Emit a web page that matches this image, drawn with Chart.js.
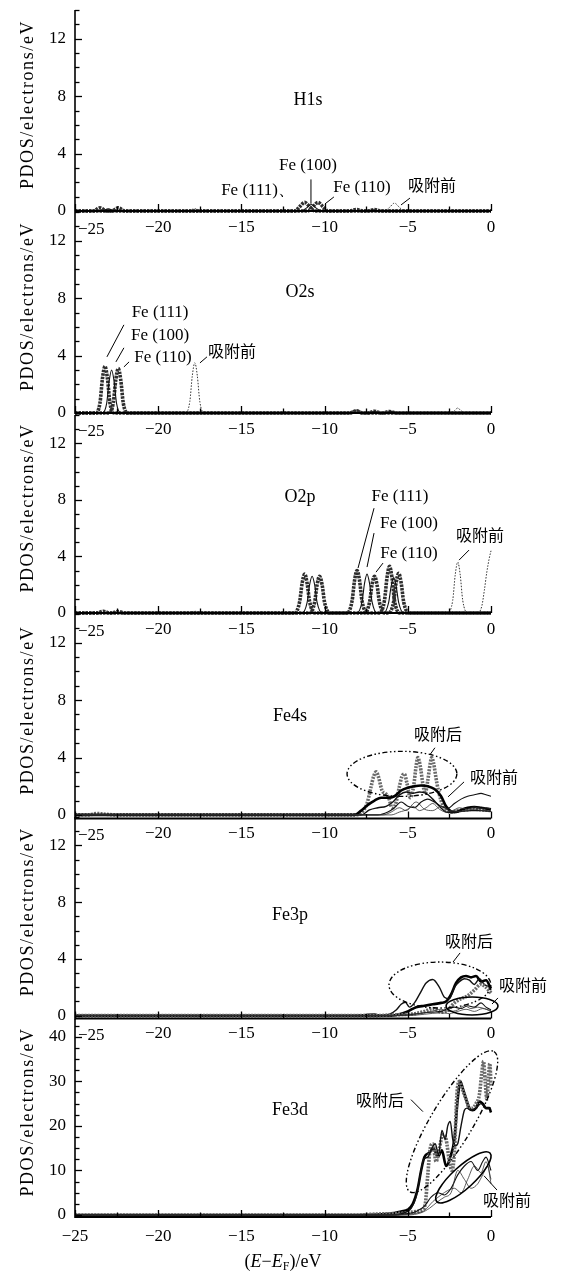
<!DOCTYPE html>
<html><head><meta charset="utf-8">
<script src="https://cdn.jsdelivr.net/npm/chart.js@4.4.0/dist/chart.umd.min.js"></script>
<style>
html,body{margin:0;padding:0;background:#fff;}
#wrap{position:relative;width:565px;height:1276px;overflow:hidden;background:#fff;}
#wrap canvas{position:absolute;left:0;top:0;}
</style></head><body><div id="wrap"></div>
<script>
// ---------- tick labels ----------
const xTickLabels = [-25, -20, -15, -10, -5, 0];
const yTickLabels = [0, 4, 8, 12];
const yTickLabelsFe3d = [0, 10, 20, 30, 40];

// ---------- H1s ----------
const h1s111X = [-25,-23.9,-23.5,-23.1,-22.0,-11.8,-11.5,-11.2,-10.9,-10.6,-8.5,-8.1,-7.7,0];
const h1s111Y = [0,0,0.22,0,0,0,0.3,0.6,0.3,0,0,0.1,0,0];
const h1s100X = [-25,-23.4,-23.0,-22.6,-11.4,-11.1,-10.8,-10.5,-10.2,-7.5,-7.1,-6.7,0];
const h1s100Y = [0,0,0.15,0,0,0.2,0.45,0.2,0,0,0.08,0,0];
const h1s110X = [-25,-22.8,-22.4,-22.0,-11.0,-10.7,-10.4,-10.1,-9.8,-7.4,-7.0,-6.6,0];
const h1s110Y = [0,0,0.22,0,0,0.3,0.6,0.3,0,0,0.1,0,0];
const h1sBeforeX = [-25,-18.3,-17.8,-17.3,-6.4,-6.1,-5.8,-5.5,-5.2,0];
const h1sBeforeY = [0,0,0.15,0,0,0.25,0.55,0.25,0,0];

// ---------- O2s ----------
const o2s111X = [-25,-23.75,-23.5,-23.35,-23.2,-23.05,-22.9,-22.65,-8.5,-8.1,-7.7,-7.4,-7.0,-6.6,0];
const o2s111Y = [0,0,0.7,2.4,3.25,2.4,0.7,0,0,0.15,0,0,0.12,0,0];
const o2s100X = [-25,-23.35,-23.1,-22.95,-22.8,-22.65,-22.5,-22.25,-7.4,-7.0,-6.6,-6.4,-6.0,-5.6,0];
const o2s100Y = [0,0,0.65,2.2,3.0,2.2,0.65,0,0,0.1,0,0,0.1,0,0];
const o2s110X = [-25,-22.95,-22.7,-22.55,-22.4,-22.25,-22.1,-21.85,-8.5,-8.1,-7.7,-6.5,-6.1,-5.7,0];
const o2s110Y = [0,0,0.7,2.3,3.1,2.3,0.7,0,0,0.12,0,0,0.1,0,0];
const o2sBeforeX = [-25,-18.35,-18.1,-17.95,-17.8,-17.65,-17.5,-17.25,-2.5,-2.2,-2.0,-1.8,-1.5,0];
const o2sBeforeY = [0,0,0.8,2.6,3.5,2.6,0.8,0,0,0.15,0.35,0.15,0,0];

// ---------- O2p ----------
const o2p111X = [-25,-23.7,-23.3,-22.9,-22.8,-22.4,-22.0,-11.8,-11.5,-11.35,-11.2,-11.05,-10.9,-10.6,-8.65,-8.35,-8.2,-8.05,-7.9,-7.75,-7.45,-6.7,-6.4,-6.25,-6.1,-5.95,-5.8,-5.5,-4.5,0];
const o2p111Y = [0,0,0.12,0,0,0.1,0,0,0.8,2.1,2.75,2.1,0.8,0,0,0.85,2.3,3.0,2.3,0.85,0,0,0.9,2.5,3.3,2.5,0.9,0,0,0];
const o2p100X = [-25,-11.35,-11.05,-10.9,-10.75,-10.6,-10.45,-10.15,-8.05,-7.75,-7.6,-7.45,-7.3,-7.15,-6.85,-6.45,-6.15,-6.0,-5.85,-5.7,-5.55,-5.25,0];
const o2p100Y = [0,0,0.75,2.0,2.6,2.0,0.75,0,0,0.8,2.1,2.75,2.1,0.8,0,0,0.75,1.9,2.5,1.9,0.75,0,0];
const o2p110X = [-25,-10.9,-10.6,-10.45,-10.3,-10.15,-10.0,-9.7,-7.6,-7.3,-7.15,-7.0,-6.85,-6.7,-6.4,-6.15,-5.85,-5.7,-5.55,-5.4,-5.25,-4.95,0];
const o2p110Y = [0,0,0.75,2.0,2.6,2.0,0.75,0,0,0.75,2.0,2.6,2.0,0.75,0,0,0.8,2.15,2.8,2.15,0.8,0,0];
const o2pBeforeX = [-25,-18.3,-17.8,-17.3,-2.6,-2.3,-2.15,-2.0,-1.85,-1.7,-1.4,-0.8,-0.55,-0.4,-0.25,-0.1,0];
const o2pBeforeY = [0,0,0.12,0,0,0.9,2.7,3.6,2.7,0.9,0,0,0.5,1.6,2.9,3.9,4.4];

// ---------- Fe4s ----------
const fe4sAfterAX = [-25,-24.2,-23.7,-23.2,-22.6,-9.5,-8.2,-7.8,-7.45,-7.2,-7.05,-6.9,-6.75,-6.55,-6.35,-6.15,-5.95,-5.75,-5.5,-5.35,-5.2,-5.05,-4.85,-4.65,-4.5,-4.4,-4.25,-4.1,-3.95,-3.8,-3.65,-3.56,-3.45,-3.25,-3.0,-2.7,-2.4,-2.0,-1.5,-1.0,-0.5,0];
const fe4sAfterAY = [0,0,0.1,0.05,0,0,0,0.15,0.8,2.0,2.7,3.0,2.6,1.7,1.5,1.2,0.5,0.7,2.0,2.7,2.85,2.2,1.2,2.0,3.4,4.0,3.4,2.2,1.5,2.4,3.6,4.0,3.6,2.2,1.0,0.4,0.2,0.3,0.35,0.4,0.35,0.3];
const fe4sAfterBX = [-25,-8.2,-7.8,-7.4,-7.0,-6.6,-6.2,-5.8,-5.4,-5.0,-4.6,-4.2,-3.8,-3.4,-3.0,-2.7,-2.4,-2.1,-1.8,-1.4,-1.0,-0.6,-0.3,0];
const fe4sAfterBY = [0,0,0.3,0.7,1.0,1.2,1.2,1.3,1.7,1.9,2.0,2.05,2.0,1.8,1.3,0.6,0.25,0.2,0.35,0.5,0.55,0.5,0.45,0.4];
const fe4sAfterCX = [-25,-7.8,-7.3,-6.8,-6.3,-5.9,-5.5,-5.1,-4.7,-4.3,-3.9,-3.5,-3.1,-2.7,-2.3,-1.8,-1.2,-0.6,0];
const fe4sAfterCY = [0,0,0.35,0.5,0.6,0.9,1.4,1.6,1.5,1.6,1.5,1.1,0.6,0.2,0.15,0.25,0.3,0.3,0.25];
const fe4sBefore1X = [-25,-6.8,-6.2,-5.8,-5.4,-5.0,-4.6,-4.2,-3.8,-3.4,-3.0,-2.6,-2.2,-1.8,-1.4,-1.0,-0.6,-0.3,0];
const fe4sBefore1Y = [0,0,0.2,0.5,0.9,0.6,0.5,0.9,1.1,0.9,0.6,0.45,0.8,1.1,1.3,1.4,1.5,1.4,1.3];
const fe4sBefore2X = [-25,-6.5,-6.0,-5.5,-5.1,-4.7,-4.3,-3.9,-3.5,-3.1,-2.7,-2.3,-1.9,-1.4,-1.0,-0.6,-0.3,0];
const fe4sBefore2Y = [0,0,0.2,0.5,0.3,0.6,0.3,0.5,0.8,0.4,0.2,0.3,0.5,0.4,0.55,0.45,0.5,0.4];
const fe4sBefore3X = [-25,-6.0,-5.5,-5.0,-4.5,-4.0,-3.5,-3.0,-2.5,-2.0,-1.5,-1.0,-0.5,0];
const fe4sBefore3Y = [0,0,0.2,0.4,0.9,0.4,0.3,0.6,0.3,0.25,0.3,0.4,0.3,0.25];

// ---------- Fe3p ----------
const fe3pAfterAX = [-25,-8.2,-7.8,-7.4,-7.0,-6.6,-6.1,-5.7,-5.4,-5.15,-4.9,-4.6,-4.3,-3.9,-3.5,-3.1,-2.8,-2.5,-2.2,-1.9,-1.6,-1.3,-1.0,-0.7,-0.4,-0.1,0];
const fe3pAfterAY = [0,0,0.05,0.1,0.12,0,0.1,0.4,0.8,0.95,0.6,0.9,1.5,2.3,2.55,2.0,1.3,1.2,2.0,2.4,2.6,2.5,2.2,2.6,2.2,2.0,1.8];
const fe3pAfterBX = [-25,-6.0,-5.5,-5.0,-4.5,-4.0,-3.5,-3.0,-2.7,-2.4,-2.1,-1.8,-1.5,-1.2,-0.9,-0.6,-0.3,0];
const fe3pAfterBY = [0,0,0.1,0.3,0.6,0.7,0.8,0.9,1.0,1.5,2.3,2.7,2.8,2.7,2.8,2.4,2.5,1.9];
const fe3pAfterCX = [-25,-7.0,-6.0,-5.0,-4.5,-4.0,-3.5,-3.0,-2.6,-2.2,-1.8,-1.4,-1.0,-0.6,-0.3,0];
const fe3pAfterCY = [0,0,0.05,0.1,0.15,0.3,0.5,0.25,0.4,0.9,1.2,1.4,1.8,2.2,2.0,1.6];
const fe3pBefore1X = [-25,-6.0,-5.0,-4.0,-3.5,-3.0,-2.6,-2.2,-1.8,-1.4,-1.0,-0.6,-0.3,0];
const fe3pBefore1Y = [0,0,0.05,0.2,0.25,0.3,0.5,0.6,0.5,0.7,0.6,0.9,0.6,0.4];
const fe3pBefore2X = [-25,-6.0,-5.0,-4.2,-3.6,-3.0,-2.5,-2.0,-1.6,-1.2,-0.8,-0.4,0];
const fe3pBefore2Y = [0,0,0.1,0.15,0.3,0.45,0.3,0.4,0.7,0.5,0.6,0.5,0.35];
const fe3pBefore3X = [-25,-5.0,-4.0,-3.0,-2.5,-2.0,-1.5,-1.0,-0.5,0];
const fe3pBefore3Y = [0,0,0.1,0.2,0.15,0.3,0.45,0.3,0.5,0.3];

// ---------- Fe3d ----------
const fe3dAfterAX = [-25,-8.0,-7.0,-6.0,-5.0,-4.5,-4.2,-3.95,-3.8,-3.65,-3.5,-3.3,-3.1,-2.9,-2.7,-2.5,-2.35,-2.2,-2.05,-1.9,-1.7,-1.5,-1.3,-1.1,-0.9,-0.7,-0.55,-0.45,-0.35,-0.25,-0.15,-0.07,0];
const fe3dAfterAY = [0,0,0.2,0.3,0.5,0.8,1.0,2.5,9,15,16,12,15,18,17,12,10,14,27,30,28,26,24,24,25,27,32,34.5,30,26,31,34,29];
const fe3dAfterBX = [-25,-8.0,-6.0,-5.4,-5.0,-4.7,-4.4,-4.2,-4.0,-3.7,-3.45,-3.2,-2.95,-2.7,-2.45,-2.2,-2.0,-1.85,-1.7,-1.5,-1.3,-1.1,-0.9,-0.7,-0.5,-0.3,-0.1,0];
const fe3dAfterBY = [0,0,0.3,0.8,1.2,2.5,6,10,13,14,15,13,14.5,11,13,17,26,30,28.5,26,24,23.5,24,25.5,25,24,24,23];
const fe3dAfterCX = [-25,-6.0,-5.2,-4.8,-4.5,-4.25,-4.05,-3.8,-3.55,-3.35,-3.15,-2.95,-2.75,-2.6,-2.45,-2.3,-2.15,-2.0,-1.8,-1.6,-1.45,-1.2,-0.9,-0.6,-0.3,0];
const fe3dAfterCY = [0,0,0.5,1.5,4,9,12.5,13,15,16,13.5,19,17,20,21,17,15.5,16,20,23.5,24,23.5,24,25,24,24];
const fe3dBefore1X = [-25,-6.0,-5.0,-4.5,-4.0,-3.6,-3.2,-2.8,-2.4,-2.0,-1.6,-1.2,-0.8,-0.5,-0.3,0];
const fe3dBefore1Y = [0,0,0.3,0.8,2,4,5,4.5,6,9,11,12,10,12,13,10];
const fe3dBefore2X = [-25,-5.5,-4.5,-4.0,-3.5,-3.0,-2.6,-2.2,-1.8,-1.4,-1.0,-0.6,-0.3,0];
const fe3dBefore2Y = [0,0,0.4,1,3,4.5,5.5,6,5,8,11,9.5,12,8];
const fe3dBefore3X = [-25,-5.0,-4.2,-3.7,-3.2,-2.8,-2.4,-2.0,-1.6,-1.2,-0.8,-0.5,-0.2,0];
const fe3dBefore3Y = [0,0,0.5,1.5,3,4,5,10,8,6,7,9,11,7];

// ---------- styles ----------
const STYLE = {
  hatched:  {borderColor:'#2e2e2e', borderWidth:3.6, borderDash:[2.5,1]},
  hatchedL: {borderColor:'#6a6a6a', borderWidth:3.6, borderDash:[2,1.2]},
  thick:    {borderColor:'#000', borderWidth:2.6},
  medium:   {borderColor:'#111', borderWidth:1.4},
  thin:     {borderColor:'#111', borderWidth:1.1},
  hair:     {borderColor:'#333', borderWidth:0.8},
  dotted:   {borderColor:'#333', borderWidth:1, borderDash:[1.5,1.5]}
};
const SERIF = '"Liberation Serif", "DejaVu Serif", serif';
const CJK = '"Noto Sans CJK SC", sans-serif';
const LABEL_BAND = 30;

const panels = [
  {name:'H1s', top:10, bottom:211, min:0, max:14, yTicks:yTickLabels, yMinor:1, xPad:6,
   series:[[h1sBeforeX,h1sBeforeY,'dotted'],[h1s100X,h1s100Y,'thin'],[h1s111X,h1s111Y,'hatched'],[h1s110X,h1s110Y,'hatched']],
   texts:[['H1s',-11.0,7.73,'s'],['Fe (100)',-11.0,3.15,'l'],['Fe (111)、',-14.0,1.46,'l'],['Fe (110)',-7.75,1.6,'l'],['吸附前',-3.55,1.8,'c']],
   lines:[[-10.82,2.2,-10.82,0.5],[-9.44,0.98,-9.98,0.49],[-4.87,0.9,-5.41,0.42]], ellipses:[]},
  {name:'O2s', top:212, bottom:413, min:0, max:14, yTicks:yTickLabels, yMinor:1, xPad:6,
   series:[[o2sBeforeX,o2sBeforeY,'dotted'],[o2s100X,o2s100Y,'thin'],[o2s111X,o2s111Y,'hatched'],[o2s110X,o2s110Y,'hatched']],
   texts:[['O2s',-11.48,8.44,'s'],['Fe (111)',-19.89,6.98,'l'],['Fe (100)',-19.89,5.37,'l'],['Fe (110)',-19.71,3.84,'l'],['吸附前',-15.57,4.33,'c']],
   lines:[[-22.06,6.14,-23.08,3.91],[-22.06,4.54,-22.54,3.56],[-21.75,3.56,-22.06,3.21],[-17.07,3.91,-17.49,3.49]], ellipses:[]},
  {name:'O2p', top:415, bottom:613, min:0, max:14, yTicks:yTickLabels, yMinor:1, xPad:6,
   series:[[o2pBeforeX,o2pBeforeY,'dotted'],[o2p100X,o2p100Y,'thin'],[o2p111X,o2p111Y,'hatched'],[o2p110X,o2p110Y,'hatched']],
   texts:[['O2p',-11.48,8.19,'s'],['Fe (111)',-5.47,8.26,'l'],['Fe (100)',-4.93,6.35,'l'],['Fe (110)',-4.93,4.23,'l'],['吸附前',-0.66,5.5,'c']],
   lines:[[-7.03,7.41,-7.99,3.18],[-7.03,5.65,-7.45,3.25],[-6.49,3.53,-6.91,2.89],[-1.32,4.45,-1.92,3.74]], ellipses:[]},
  {name:'Fe4s', top:614, bottom:818.5, min:-0.25, max:14, yTicks:yTickLabels, yMinor:1, xPad:5,
   series:[[fe4sBefore3X,fe4sBefore3Y,'hair'],[fe4sBefore2X,fe4sBefore2Y,'hair'],[fe4sBefore1X,fe4sBefore1Y,'thin'],[fe4sAfterCX,fe4sAfterCY,'medium'],[fe4sAfterBX,fe4sAfterBY,'thick'],[fe4sAfterAX,fe4sAfterAY,'hatchedL']],
   texts:[['Fe4s',-12.08,6.84,'s'],['吸附后',-3.19,5.65,'c'],['吸附前',0.18,2.65,'c']],
   lines:[[-3.37,4.68,-3.67,4.19],[-1.62,2.3,-2.58,1.26]],
   ellipses:[{cx:-5.35,cy:2.86,rx:3.3,ry:1.57,dash:true}]},
  {name:'Fe3p', top:817, bottom:1018.5, min:-0.2, max:14, yTicks:yTickLabels, yMinor:1, xPad:5,
   series:[[fe3pBefore3X,fe3pBefore3Y,'hair'],[fe3pBefore2X,fe3pBefore2Y,'hair'],[fe3pBefore1X,fe3pBefore1Y,'thin'],[fe3pAfterCX,fe3pAfterCY,'hatchedL'],[fe3pAfterAX,fe3pAfterAY,'medium'],[fe3pAfterBX,fe3pAfterBY,'thick']],
   texts:[['Fe3p',-12.08,7.09,'s'],['吸附后',-1.32,5.26,'c'],['吸附前',1.92,2.16,'c']],
   lines:[[-1.86,4.42,-2.28,3.78],[0.42,1.25,0.06,0.82]],
   ellipses:[{cx:-3.07,cy:2.16,rx:3.06,ry:1.62,dash:true},{cx:-1.14,cy:0.68,rx:1.56,ry:0.63,dash:false}]},
  {name:'Fe3d', top:1019, bottom:1217, min:-0.45, max:44, yTicks:yTickLabelsFe3d, yMinor:2.5, xPad:9, last:true,
   series:[[fe3dBefore3X,fe3dBefore3Y,'hair'],[fe3dBefore2X,fe3dBefore2Y,'hair'],[fe3dBefore1X,fe3dBefore1Y,'thin'],[fe3dAfterCX,fe3dAfterCY,'medium'],[fe3dAfterAX,fe3dAfterAY,'hatchedL'],[fe3dAfterBX,fe3dAfterBY,'thick']],
   texts:[['Fe3d',-12.08,23.6,'s'],['吸附后',-6.67,25.9,'c'],['吸附前',0.96,3.4,'c']],
   lines:[[-4.81,25.9,-4.09,23.2],[-0.42,8.8,0.36,5.6]],
   ellipses:[{x1:-4.87,y1:5.2,x2:0.18,y2:36.7,minor:21,dash:true},{x1:-3.26,y1:3.0,x2:-0.06,y2:13.9,minor:11,dash:false}]}
];

function fmt(v){ return v < 0 ? '\u2212' + Math.abs(v) : String(v); }

const decor = {
  id:'decor',
  afterDatasetsDraw(chart, args, opts){
    const p = opts.panel, ctx = chart.ctx, a = chart.chartArea;
    const xs = chart.scales.x, ys = chart.scales.y;
    const X = v => xs.getPixelForValue(v), Y = v => ys.getPixelForValue(v);
    ctx.save();
    ctx.strokeStyle = '#000'; ctx.fillStyle = '#000'; ctx.setLineDash([]);
    // axes
    ctx.lineWidth = 1.6;
    ctx.beginPath(); ctx.moveTo(a.left, a.top); ctx.lineTo(a.left, a.bottom + 1); ctx.stroke();
    ctx.lineWidth = 2;
    ctx.beginPath(); ctx.moveTo(a.left, a.bottom); ctx.lineTo(a.right, a.bottom); ctx.stroke();
    // y ticks (inward)
    ctx.lineWidth = 1.3;
    for (let v = 0; v <= p.max + 1e-9; v += p.yMinor) {
      const y = Math.round(Y(v)) + 0.5, major = p.yTicks.includes(v);
      ctx.beginPath(); ctx.moveTo(a.left, y); ctx.lineTo(a.left + (major ? 7 : 4.5), y); ctx.stroke();
    }
    // x ticks (inward)
    for (let v = -25; v <= 0.001; v += 2.5) {
      const x = Math.round(X(v)) + 0.5, major = xTickLabels.includes(v);
      ctx.beginPath(); ctx.moveTo(x, a.bottom); ctx.lineTo(x, a.bottom - (major ? 7 : 4.5)); ctx.stroke();
    }
    // first x label of stacked panels sits right of the shared y axis
    if (!p.last) {
      ctx.font = '17px ' + SERIF; ctx.textAlign = 'left'; ctx.textBaseline = 'top';
      ctx.fillText(fmt(xTickLabels[0]), X(xTickLabels[0]) + 3, a.bottom + p.xPad + 4);
    }
    // leader lines
    ctx.lineWidth = 1;
    p.lines.forEach(l => { ctx.beginPath(); ctx.moveTo(X(l[0]), Y(l[1])); ctx.lineTo(X(l[2]), Y(l[3])); ctx.stroke(); });
    // ellipses
    p.ellipses.forEach(e => {
      ctx.lineWidth = e.dash ? 1.4 : 1.6;
      ctx.setLineDash(e.dash ? [5,2.5,1.5,2.5,1.5,2.5] : []);
      ctx.beginPath();
      if (e.x1 !== undefined) {
        const x1 = X(e.x1), y1 = Y(e.y1), x2 = X(e.x2), y2 = Y(e.y2);
        const cx = (x1 + x2) / 2, cy = (y1 + y2) / 2;
        ctx.ellipse(cx, cy, Math.hypot(x2 - x1, y2 - y1) / 2, e.minor, Math.atan2(y2 - y1, x2 - x1), 0, Math.PI * 2);
      } else {
        const cx = X(e.cx), cy = Y(e.cy);
        ctx.ellipse(cx, cy, Math.abs(X(e.cx + e.rx) - cx), Math.abs(Y(e.cy + e.ry) - cy), 0, 0, Math.PI * 2);
      }
      ctx.stroke();
    });
    ctx.setLineDash([]);
    // texts
    ctx.textAlign = 'center'; ctx.textBaseline = 'middle';
    p.texts.forEach(t => {
      ctx.font = t[3] === 'c' ? '16px ' + CJK : (t[3] === 's' ? '18px ' + SERIF : '17px ' + SERIF);
      ctx.fillText(t[0], X(t[1]), Y(t[2]));
    });
    // y axis title
    ctx.save();
    ctx.translate(28, (a.top + a.bottom) / 2 - 6);
    ctx.rotate(-Math.PI / 2);
    ctx.font = '18px ' + SERIF;
    try { ctx.letterSpacing = '1.6px'; } catch (err) {}
    ctx.fillText('PDOS/electrons/eV', 0, 0);
    ctx.restore();
    // x axis title (bottom panel only)
    if (p.last) {
      const parts = [['(', 'n'], ['E', 'i'], ['\u2212', 'n'], ['E', 'i'], ['F', 's'], [')/eV', 'n']];
      const fontOf = k => k === 'i' ? 'italic 18px ' + SERIF : (k === 's' ? '12px ' + SERIF : '18px ' + SERIF);
      let w = 0;
      parts.forEach(pt => { ctx.font = fontOf(pt[1]); w += ctx.measureText(pt[0]).width; });
      let x = (a.left + a.right) / 2 - w / 2; const y = 1262;
      ctx.textAlign = 'left';
      parts.forEach(pt => {
        ctx.font = fontOf(pt[1]);
        ctx.fillText(pt[0], x, pt[1] === 's' ? y + 5 : y);
        x += ctx.measureText(pt[0]).width;
      });
    }
    ctx.restore();
  }
};

const wrap = document.getElementById('wrap');
panels.forEach(p => {
  const cv = document.createElement('canvas');
  cv.width = 565; cv.height = 1276;
  cv.style.width = '565px'; cv.style.height = '1276px';
  wrap.appendChild(cv);
  new Chart(cv, {
    type: 'line',
    data: {
      datasets: p.series.map(s => Object.assign({
        data: s[0].map((x, i) => ({x: x, y: s[1][i]})),
        pointRadius: 0, fill: false, clip: false,
        cubicInterpolationMode: 'monotone'
      }, STYLE[s[2]]))
    },
    options: {
      responsive: false, animation: false, devicePixelRatio: 1, events: [],
      layout: {padding: {left: 0, right: 565 - 491, top: p.top, bottom: 1276 - p.bottom - LABEL_BAND}},
      plugins: {legend: {display: false}, tooltip: {enabled: false}, decor: {panel: p}},
      scales: {
        x: {
          type: 'linear', min: -25, max: 0,
          grid: {display: false, drawTicks: false}, border: {display: false},
          afterBuildTicks: s => { s.ticks = xTickLabels.map(v => ({value: v})); },
          afterFit: s => { s.height = LABEL_BAND; s.paddingLeft = 0; s.paddingRight = 0; },
          ticks: {padding: p.xPad, color: '#000', autoSkip: false, maxRotation: 0,
                  font: {family: SERIF, size: 17},
                  callback: v => (!p.last && v === xTickLabels[0]) ? '' : fmt(v)}
        },
        y: {
          type: 'linear', min: p.min, max: p.max,
          grid: {display: false, drawTicks: false}, border: {display: false},
          afterBuildTicks: s => { s.ticks = p.yTicks.map(v => ({value: v})); },
          afterFit: s => { s.width = 75; s.paddingTop = 0; s.paddingBottom = 0; },
          ticks: {padding: 9, color: '#000', font: {family: SERIF, size: 17}, callback: v => fmt(v)}
        }
      }
    },
    plugins: [decor]
  });
});
</script>
</body></html>
